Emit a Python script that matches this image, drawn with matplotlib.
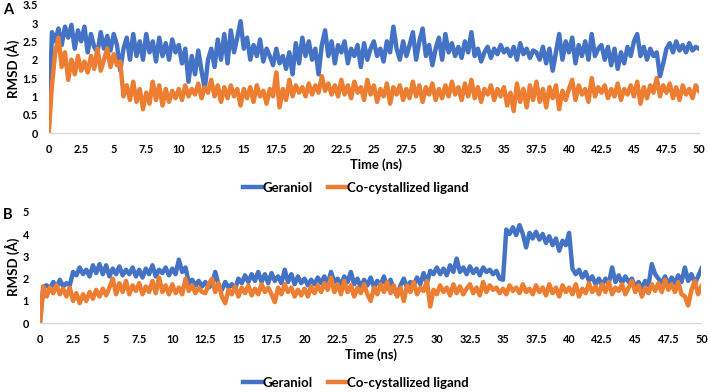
import numpy as np
import matplotlib
matplotlib.use("Agg")
import matplotlib.pyplot as plt
from matplotlib.lines import Line2D

plt.rcParams['font.family'] = ['Lato', 'DejaVu Sans']

time_ns = [i * 0.25 for i in range(201)]

# Panel A (RMSD, Å)
geraniol_A = [
    0, 2.75, 2.5, 2.85, 2.4, 2.9, 2.6, 2.95, 2.3, 2.8,
    2.5, 2.9, 2.2, 2.7, 2.35, 2.2, 2.75, 2.3, 2.65, 2.25,
    2.7, 2.4, 1.7, 2.3, 2.6, 2.0, 2.7, 2.1, 2.5, 2.0,
    2.7, 2.2, 2.5, 1.95, 2.6, 2.1, 2.45, 2.0, 2.55, 2.2,
    2.4, 1.9, 2.3, 1.4, 2.1, 1.6, 2.25, 1.7, 1.2, 2.0,
    2.3, 1.8, 2.55, 2.0, 2.7, 1.9, 2.8, 2.2, 2.6, 3.05,
    2.3, 2.6, 2.0, 2.4, 2.1, 2.55, 1.95, 2.3, 2.1, 1.85,
    2.3, 1.9, 2.1, 1.75, 2.2, 1.6, 2.45, 1.9, 2.6, 2.1,
    2.5, 2.0, 2.3, 1.6, 2.4, 2.8, 2.1, 2.5, 1.9, 2.4,
    2.2, 2.5, 1.9, 2.3, 2.1, 2.4, 1.8, 2.45, 2.0, 2.3,
    2.5, 2.1, 2.3, 1.95, 2.5, 2.2, 2.9, 2.3, 2.0, 2.5,
    2.1, 2.4, 2.75, 2.0, 2.5, 2.85, 2.1, 2.4, 1.85, 2.3,
    2.6, 2.0, 2.7, 2.2, 2.45, 2.1, 2.35, 2.05, 2.5, 2.2,
    2.75, 2.1, 2.3, 1.95, 2.2, 2.35, 2.05, 2.3, 2.15, 2.4,
    2.2, 2.3, 2.1, 2.35, 2.0, 2.45, 2.15, 2.3, 2.05, 2.25,
    2.2, 2.0, 2.35, 1.9, 2.3, 1.7, 2.2, 2.7, 2.0, 2.5,
    2.2, 2.6, 1.9, 2.4, 2.1, 2.5, 2.0, 2.7, 2.1, 2.3,
    2.4, 2.0, 2.35, 1.85, 2.3, 1.75, 2.2, 1.9, 2.35, 2.1,
    2.5, 2.7, 2.1, 2.35, 2.0, 2.3, 2.1, 2.2, 1.55, 1.9,
    2.3, 2.45, 2.2, 2.5, 2.25, 2.4, 2.2, 2.45, 2.25, 2.35,
    2.3,
]
ligand_A = [
    0, 1.3, 2.2, 2.6, 1.8, 2.2, 1.45, 2.0, 1.6, 2.1,
    1.7, 1.95, 1.65, 2.1, 1.75, 2.3, 1.7, 2.0, 2.3, 1.8,
    2.15, 1.85, 1.95, 1.0, 1.3, 0.9, 1.4, 0.85, 1.2, 0.65,
    1.1, 0.8, 1.4, 0.9, 1.3, 0.75, 1.2, 0.85, 1.15, 0.95,
    1.2, 0.9, 1.3, 1.0, 1.2, 1.05, 1.35, 0.95, 1.25, 1.1,
    1.45, 1.0, 1.3, 0.85, 1.25, 0.95, 1.3, 1.0, 1.2, 0.75,
    1.2, 0.95, 1.25, 0.85, 1.3, 1.0, 1.15, 0.8, 1.2, 1.0,
    1.65, 0.7, 1.2, 0.9, 1.45, 1.0, 1.3, 1.1, 1.25, 1.0,
    1.35, 1.05, 1.3, 1.1, 1.55, 1.15, 1.35, 1.05, 1.3, 1.0,
    1.45, 1.05, 1.3, 0.95, 1.4, 1.1, 1.25, 0.9, 1.45, 1.05,
    1.3, 0.85, 1.2, 1.0, 1.35, 0.8, 1.25, 1.05, 1.3, 0.9,
    1.2, 0.95, 1.4, 1.0, 1.3, 0.85, 1.25, 1.05, 1.35, 0.9,
    1.2, 0.95, 1.3, 1.0, 1.4, 1.05, 1.25, 0.9, 1.35, 1.0,
    1.45, 0.95, 1.25, 0.85, 1.2, 1.05, 1.3, 0.9, 1.2, 1.0,
    1.25, 0.75, 1.1, 0.6, 1.35, 0.85, 1.2, 0.7, 1.3, 0.9,
    1.4, 0.85, 1.2, 0.7, 1.25, 0.95, 1.3, 0.65, 1.15, 0.9,
    1.2, 1.45, 0.9, 1.3, 1.05, 1.2, 0.85, 1.5, 1.0, 1.25,
    1.1, 1.3, 0.95, 1.2, 1.0, 1.35, 0.9, 1.2, 1.05, 1.3,
    1.0, 1.4, 0.8, 1.25, 0.95, 1.3, 1.1, 1.5, 1.0, 1.3,
    1.1, 1.35, 0.95, 1.25, 0.9, 1.3, 1.05, 1.2, 0.95, 1.3,
    1.15,
]

# Panel B (RMSD, Å)
geraniol_B = [
    0, 1.65, 1.7, 1.55, 1.85, 1.6, 1.95, 1.65, 1.8, 1.7,
    2.3, 2.15, 2.5, 2.2, 2.4, 2.1, 2.6, 2.25, 2.65, 2.2,
    2.6, 2.1, 2.45, 2.2, 2.55, 2.15, 2.4, 2.2, 2.5, 2.1,
    2.4, 2.05, 2.45, 2.2, 2.6, 2.1, 2.4, 2.25, 2.5, 2.15,
    2.45, 2.2, 2.85, 2.3, 2.5, 1.8, 1.95, 1.7, 1.9, 1.65,
    1.85, 1.6, 1.75, 2.3, 1.7, 1.5, 1.85, 1.6, 1.75, 1.55,
    2.0, 1.8, 2.15, 1.85, 2.2, 1.9, 2.3, 1.85, 2.2, 1.8,
    2.25, 1.9, 2.1, 1.8, 2.4, 1.85, 2.2, 1.75, 2.1, 1.8,
    2.0, 1.7, 1.95, 1.75, 2.05, 1.8, 2.1, 1.75, 2.3, 1.85,
    2.0, 1.7, 2.1, 1.85, 2.3, 1.75, 2.0, 1.6, 1.95, 1.7,
    2.05, 1.6, 1.9, 1.7, 2.1, 1.55, 1.95, 1.5, 1.25, 1.7,
    2.0, 1.6, 1.85, 1.7, 2.05, 1.75, 2.25, 1.8, 2.35, 2.2,
    2.5, 2.2, 2.45, 2.15, 2.6, 2.3, 2.9, 2.3, 2.5, 2.2,
    2.55, 2.25, 2.45, 2.15, 2.5, 2.3, 2.4, 2.2, 2.35, 2.0,
    1.95, 4.2, 4.0, 4.3, 3.95, 4.4, 4.0, 3.4, 4.05, 3.8,
    4.1, 3.75, 4.0, 3.6, 3.9, 3.5, 3.8, 3.25, 3.7, 3.5,
    4.05, 2.45, 2.2, 2.4, 2.05, 2.3, 1.9, 2.1, 1.75, 2.0,
    1.7, 2.0, 1.8, 2.5, 1.85, 2.15, 1.8, 2.1, 1.85, 2.0,
    1.6, 1.85, 1.55, 1.9, 1.7, 2.65, 2.2, 2.0, 1.8, 2.1,
    1.75, 2.05, 1.8, 2.15, 1.85, 2.5, 1.9, 2.2, 1.8, 2.1,
    2.45,
]
ligand_B = [
    0, 1.65, 1.2, 1.6, 1.35, 1.7, 1.3, 1.55, 1.2, 1.6,
    1.0, 1.35, 0.9, 1.3, 1.0, 1.4, 1.1, 1.5, 1.2, 1.55,
    1.25, 1.6, 2.0, 1.3, 1.8, 1.4, 1.9, 1.3, 1.7, 1.45,
    1.8, 1.3, 1.65, 1.4, 1.9, 1.35, 2.05, 1.4, 1.7, 1.3,
    1.75, 1.35, 1.6, 1.3, 2.0, 1.45, 1.7, 1.35, 1.6, 1.4,
    1.35, 1.75, 2.0, 1.4, 1.8, 1.2, 0.9, 1.5, 1.3, 1.65,
    1.2, 1.6, 1.35, 1.7, 1.25, 1.55, 1.3, 1.75, 1.4, 1.6,
    1.3, 0.95, 1.6, 1.3, 1.75, 1.4, 1.6, 1.2, 1.5, 1.25,
    1.55, 1.2, 1.65, 1.35, 1.7, 1.4, 1.8, 1.5, 2.05, 1.4,
    1.75, 1.3, 1.9, 1.4, 1.7, 1.2, 1.6, 1.35, 1.75, 1.3,
    1.0, 1.6, 1.3, 1.75, 1.4, 1.85, 1.35, 1.7, 1.2, 1.6,
    1.0, 1.7, 1.4, 1.85, 1.3, 1.6, 1.45, 1.9, 0.75, 1.5,
    1.3, 1.7, 1.4, 1.6, 1.25, 1.75, 1.35, 1.65, 1.3, 1.55,
    1.75, 1.35, 1.6, 1.25, 1.85, 1.4, 1.7, 1.5, 1.6, 1.35,
    1.55, 1.3, 1.7, 1.45, 1.6, 1.35, 1.75, 1.4, 1.55, 1.3,
    1.7, 1.4, 1.6, 1.25, 1.75, 1.35, 1.6, 1.2, 1.7, 1.4,
    1.6, 1.3, 1.75, 1.2, 1.55, 1.35, 1.8, 1.4, 1.65, 1.3,
    1.75, 1.4, 1.85, 1.3, 1.6, 1.45, 1.75, 1.3, 1.6, 1.9,
    1.4, 1.7, 1.2, 1.6, 1.35, 1.75, 1.45, 1.8, 1.4, 1.95,
    1.5, 1.75, 1.4, 1.85, 1.3, 1.2, 0.8, 1.5, 1.9, 1.3,
    1.65,
]

x_ticks = [i * 2.5 for i in range(21)]
x_tick_labels = ['0', '2.5', '5', '7.5', '10', '12.5', '15', '17.5', '20', '22.5',
                 '25', '27.5', '30', '32.5', '35', '37.5', '40', '42.5', '45', '47.5', '50']
yA_ticks = [0, 0.5, 1, 1.5, 2, 2.5, 3, 3.5]
yA_labels = ['0', '0.5', '1', '1.5', '2', '2.5', '3', '3.5']
yB_ticks = [0, 1, 2, 3, 4, 5]
yB_labels = ['0', '1', '2', '3', '4', '5']
series_names = ['Geraniol', 'Co-cystallized ligand']

BLUE = '#4472C4'
ORANGE = '#ED7D31'
W, H = 709, 392
LW = 3.2

fig = plt.figure(figsize=(W / 100, H / 100), dpi=100)

def px_axes(x0, x1, ytop, ybot):
    return fig.add_axes([x0 / W, 1 - ybot / H, (x1 - x0) / W, (ybot - ytop) / H])

axA = px_axes(48.7, 699, 4.7, 133)
axB = px_axes(40, 701.4, 211.7, 323.3)

for ax, g, l, yt, yl, ymax in [(axA, geraniol_A, ligand_A, yA_ticks, yA_labels, 3.5),
                                (axB, geraniol_B, ligand_B, yB_ticks, yB_labels, 5)]:
    ax.plot(time_ns, g, color=BLUE, lw=LW, solid_joinstyle='round')
    ax.plot(time_ns, l, color=ORANGE, lw=LW, solid_joinstyle='round')
    ax.set_xlim(0, 50)
    ax.set_ylim(0, ymax)
    ax.set_xticks(x_ticks)
    ax.set_xticklabels(x_tick_labels, fontsize=7.8, fontweight='bold')
    ax.set_yticks(yt)
    ax.set_yticklabels(yl, fontsize=7.8, fontweight='bold')
    ax.tick_params(axis='both', length=0)
    ax.tick_params(axis='x', pad=8)
    ax.tick_params(axis='y', pad=8)
    for s in ['top', 'right', 'left']:
        ax.spines[s].set_visible(False)
    ax.spines['bottom'].set_color('#D9D9D9')
    ax.spines['bottom'].set_linewidth(1.0)
    ax.set_facecolor('none')

# axis titles
fig.text(12 / W, 1 - 69 / H, 'RMSD (Å)', rotation=90, ha='center', va='center',
         fontsize=9.5, fontweight='bold')
fig.text(12 / W, 1 - 267 / H, 'RMSD (Å)', rotation=90, ha='center', va='center',
         fontsize=9.5, fontweight='bold')
fig.text(376 / W, 1 - 165 / H, 'Time (ns)', ha='center', va='center',
         fontsize=9.3, fontweight='bold')
fig.text(371 / W, 1 - 355 / H, 'Time (ns)', ha='center', va='center',
         fontsize=9.3, fontweight='bold')

# panel letters
fig.text(3 / W, 1 - 10 / H, 'A', ha='left', va='center', fontsize=10.5, fontweight='bold')
fig.text(3 / W, 1 - 215 / H, 'B', ha='left', va='center', fontsize=10.5, fontweight='bold')

# legends
handles = [Line2D([], [], color=BLUE, lw=LW), Line2D([], [], color=ORANGE, lw=LW)]
for yc in [188, 383]:
    fig.legend(handles, series_names, loc='center', bbox_to_anchor=(356 / W, 1 - yc / H),
               ncol=2, frameon=False, handlelength=1.4, handletextpad=0.05,
               columnspacing=1.2, prop={'size': 9.5, 'weight': 'bold'})

fig.savefig('out.png', dpi=100)
